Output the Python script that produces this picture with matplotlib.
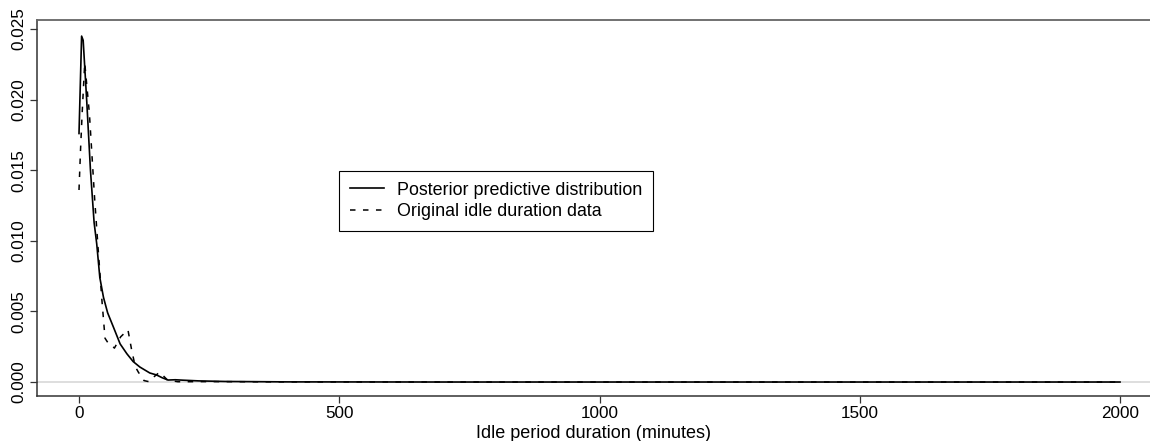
import matplotlib
matplotlib.use("Agg")
from matplotlib import pyplot as plt

plt.rcParams['font.family'] = ['Liberation Sans', 'DejaVu Sans']

# posterior predictive density (minutes -> density)
post_x = [0, 5, 8, 15, 22, 29, 34, 40, 47, 55, 66, 79, 92, 104, 117, 136, 149,
          160, 171, 185, 200, 230, 280, 400, 700, 1200, 2000]
post_y = [0.0176, 0.0245, 0.0242, 0.0198, 0.0150, 0.0113, 0.0098, 0.0074, 0.0060,
          0.0049, 0.0039, 0.0027, 0.0020, 0.00145, 0.00106, 0.00064, 0.0005,
          0.0003, 0.00014, 0.00016, 0.00013, 0.00008, 0.00004, 0.00001, 0.0, 0.0, 0.0]

# empirical density of the idle durations
data_x = [0, 3, 6, 11, 20, 30, 37, 44, 50, 57, 63, 68, 80, 94, 101, 108, 114,
          125, 135, 145, 155, 170, 190, 250, 400, 800, 1200, 2000]
data_y = [0.0136, 0.0165, 0.0190, 0.0226, 0.0190, 0.0130, 0.0093, 0.0058, 0.0031,
          0.0027, 0.0026, 0.0024, 0.0032, 0.0037, 0.0023, 0.0011, 0.0007,
          0.0001, 0.00002, 0.0004, 0.0007, 0.00014, 0.00002, 0.00003, 0.00001,
          0.0, 0.0, 0.0]

x_ticks = [0, 500, 1000, 1500, 2000]
y_ticks = [0.000, 0.005, 0.010, 0.015, 0.020, 0.025]

fig = plt.figure(figsize=(11.5, 4.41), dpi=100)
ax = fig.add_axes([37 / 1150, 45 / 441, 1 - 37 / 1150, 376 / 441])

ax.axhline(0, color='#d4d4d4', lw=1.1, zorder=1)
ax.plot(post_x, post_y, color='black', lw=1.2,
        label='Posterior predictive distribution', zorder=3)
ax.plot(data_x, data_y, color='black', lw=1.1, linestyle=(0, (3.6, 4.9)),
        label='Original idle duration data', zorder=2)

ax.set_xlim(-80.7, 2057.6)
ax.set_ylim(-0.00099, 0.02564)
ax.set_xticks(x_ticks)
ax.set_yticks(y_ticks)
ax.set_yticklabels([f'{v:.3f}' for v in y_ticks])
ax.tick_params(axis='both', labelsize=12.3, length=5, width=0.9, color='#333333')
ax.tick_params(axis='y', labelrotation=90, pad=3)
ax.tick_params(axis='x', pad=2)
for lab in ax.get_yticklabels():
    lab.set_va('center')

ax.spines['right'].set_visible(False)
ax.spines['top'].set_color('#666666')
ax.spines['top'].set_linewidth(1.3)
for side in ('left', 'bottom'):
    ax.spines[side].set_color('#333333')
    ax.spines[side].set_linewidth(1.1)

ax.set_xlabel('Idle period duration (minutes)', fontsize=13, labelpad=3)

leg = ax.legend(loc='upper left', bbox_to_anchor=(339 / 1150, 1 - 171 / 441),
                bbox_transform=fig.transFigure, fontsize=12.9, frameon=True,
                fancybox=False, framealpha=1, edgecolor='black',
                borderaxespad=0, borderpad=0.6, handlelength=1.9,
                handletextpad=0.75, labelspacing=0.25)
leg.get_frame().set_linewidth(0.8)

fig.savefig('out.png', dpi=100)
